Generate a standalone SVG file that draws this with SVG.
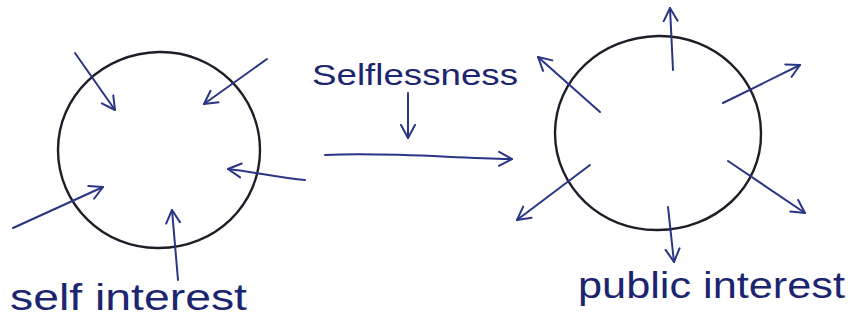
<svg xmlns="http://www.w3.org/2000/svg" width="857" height="329" viewBox="0 0 857 329">
<defs>
<style>
.ring{fill:none;stroke:#1e1e28;stroke-width:2.4;stroke-linecap:round}
.arr{fill:none;stroke:#2a3585;stroke-width:2;stroke-linecap:round;marker-end:url(#head)}
.lbl{font-family:"Liberation Sans","DejaVu Sans",sans-serif;fill:#1c2570}
</style>
<marker id="head" markerUnits="userSpaceOnUse" markerWidth="18" markerHeight="18" refX="14" refY="8" orient="auto" viewBox="0 0 18 16">
<path d="M1,1 L14,8 L1,15" fill="none" stroke="#2a3585" stroke-width="2" stroke-linecap="round" stroke-linejoin="round"/>
</marker>
</defs>
<rect width="857" height="329" fill="#ffffff"/>
<g id="self-circle">
<path class="ring" d="M159,52 C215,51 260,96 260,150 C260,205 215,248 159,248 C103,249 58,204 58,150 C58,96 103,53 159,52 Z"/>
</g>
<g id="public-circle">
<path class="ring" d="M658,36 C715,35 761,79 761,133 C762,187 715,230 658,230 C601,231 555,187 555,133 C555,79 601,37 658,36 Z"/>
</g>
<g id="label-self-interest">
<text class="lbl" x="10" y="310" font-size="36" textLength="237" lengthAdjust="spacingAndGlyphs">self interest</text>
</g>
<g id="label-selflessness">
<text class="lbl" x="312" y="85" font-size="30" textLength="206" lengthAdjust="spacingAndGlyphs">Selflessness</text>
</g>
<g id="label-public-interest">
<text class="lbl" x="578" y="298" font-size="36" textLength="267" lengthAdjust="spacingAndGlyphs">public interest</text>
</g>
<g id="connectors">
<path class="arr" d="M75,53 L115,110"/>
<path class="arr" d="M267,59 L204,104"/>
<path class="arr" d="M305,180 C280,178 255,172 228,169"/>
<path class="arr" d="M13,228 L103,187"/>
<path class="arr" d="M178,280 L172,210"/>
<path class="arr" d="M408,93 L408,138"/>
<path class="arr" d="M325,155 C390,152 450,158 512,159"/>
<path class="arr" d="M673,70 L670,8"/>
<path class="arr" d="M600,112 L538,57"/>
<path class="arr" d="M723,103 L800,65"/>
<path class="arr" d="M728,161 L805,213"/>
<path class="arr" d="M668,207 L674,262"/>
<path class="arr" d="M590,165 L517,220"/>
</g>
</svg>
